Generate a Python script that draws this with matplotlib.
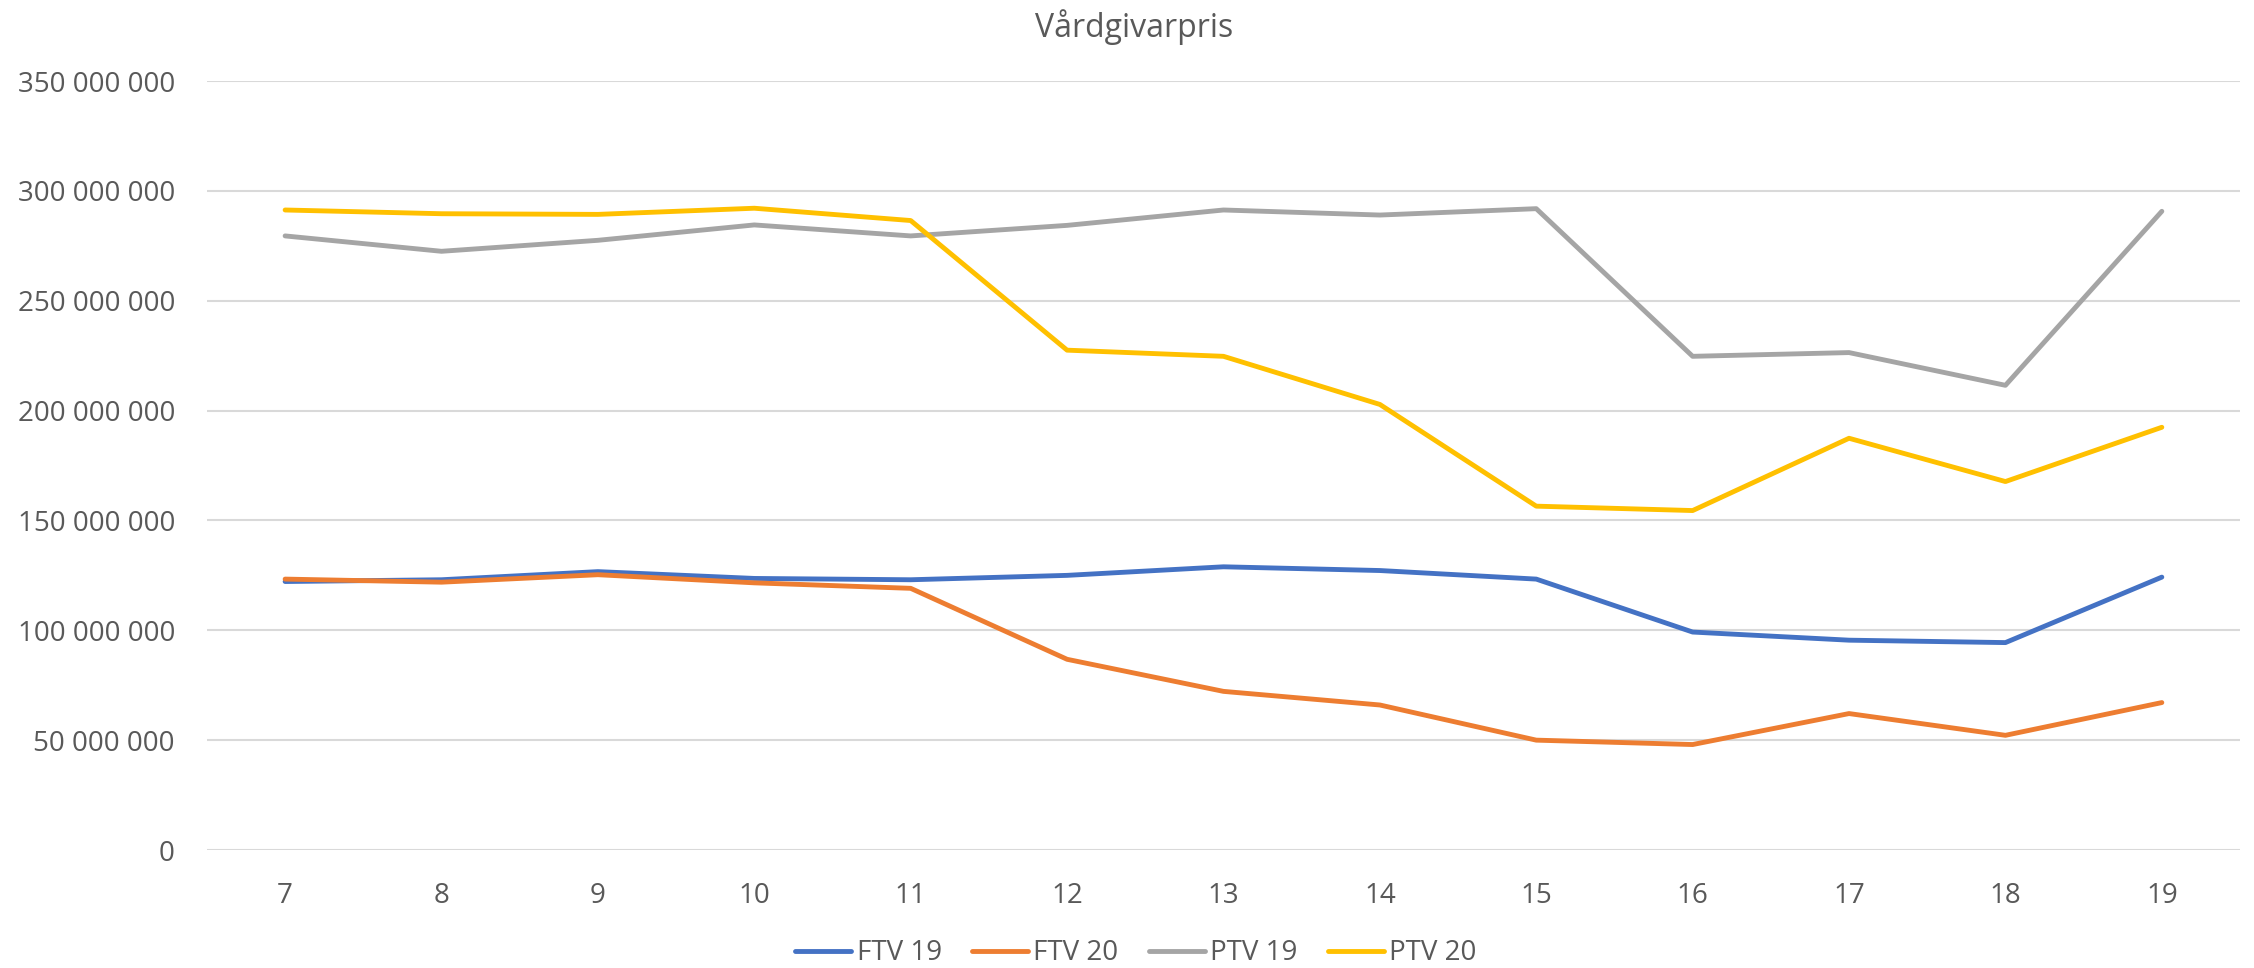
import matplotlib
matplotlib.use("Agg")
import matplotlib.pyplot as plt
from matplotlib.ticker import FuncFormatter, MultipleLocator

plt.rcParams["font.family"] = ["Open Sans", "DejaVu Sans"]

weeks = [7, 8, 9, 10, 11, 12, 13, 14, 15, 16, 17, 18, 19]

# values in kronor
ftv19 = [122.2e6, 123.0e6, 126.7e6, 123.6e6, 123.0e6, 125.0e6, 128.9e6,
         127.2e6, 123.3e6, 99.2e6, 95.5e6, 94.4e6, 124.2e6]
ftv20 = [123.3e6, 121.9e6, 125.3e6, 121.6e6, 119.1e6, 86.8e6, 72.2e6,
         66.0e6, 50.0e6, 48.0e6, 62.1e6, 52.2e6, 67.1e6]
ptv19 = [279.5e6, 272.5e6, 277.5e6, 284.5e6, 279.5e6, 284.3e6, 291.3e6,
         289.0e6, 291.9e6, 224.7e6, 226.4e6, 211.5e6, 290.7e6]
ptv20 = [291.3e6, 289.6e6, 289.3e6, 292.1e6, 286.5e6, 227.5e6, 224.7e6,
         202.8e6, 156.5e6, 154.5e6, 187.4e6, 167.7e6, 192.4e6]

series = [("FTV 19", ftv19, "#4472C4"),
          ("FTV 20", ftv20, "#ED7D31"),
          ("PTV 19", ptv19, "#A5A5A5"),
          ("PTV 20", ptv20, "#FFC000")]

TXT = "#595959"

fig = plt.figure(figsize=(22.54, 9.68), dpi=100)
ax = fig.add_axes([0.0918, 0.1219, 0.902, 0.7944])

for name, vals, col in series:
    ax.plot(weeks, vals, color=col, lw=3.5, label=name,
            solid_joinstyle="round", solid_capstyle="round")

ax.set_xlim(6.5, 19.5)
ax.set_ylim(0, 350e6)
ax.set_xticks(weeks)
ax.yaxis.set_major_locator(MultipleLocator(50e6))
ax.yaxis.set_major_formatter(FuncFormatter(lambda v, p: f"{v:,.0f}".replace(",", " ")))
ax.grid(axis="y", color="#d9d9d9", lw=1.5)
ax.set_axisbelow(True)
for s in ax.spines.values():
    s.set_visible(False)
ax.tick_params(length=0, labelsize=20, colors=TXT)
ax.tick_params(axis="y", pad=23)
ax.tick_params(axis="x", pad=23)

fig.text(0.503, 0.972, "Vårdgivarpris", ha="center", va="center",
         fontsize=23, color=TXT)

leg = fig.legend(loc="center", bbox_to_anchor=(0.504, 0.015), ncol=4,
                 frameon=False, fontsize=20, handlelength=2.0,
                 handletextpad=0.2, columnspacing=1.1, labelcolor=TXT)
for h in leg.get_lines():
    h.set_linewidth(3.5)

plt.savefig("out.png", dpi=100)
plt.close()
